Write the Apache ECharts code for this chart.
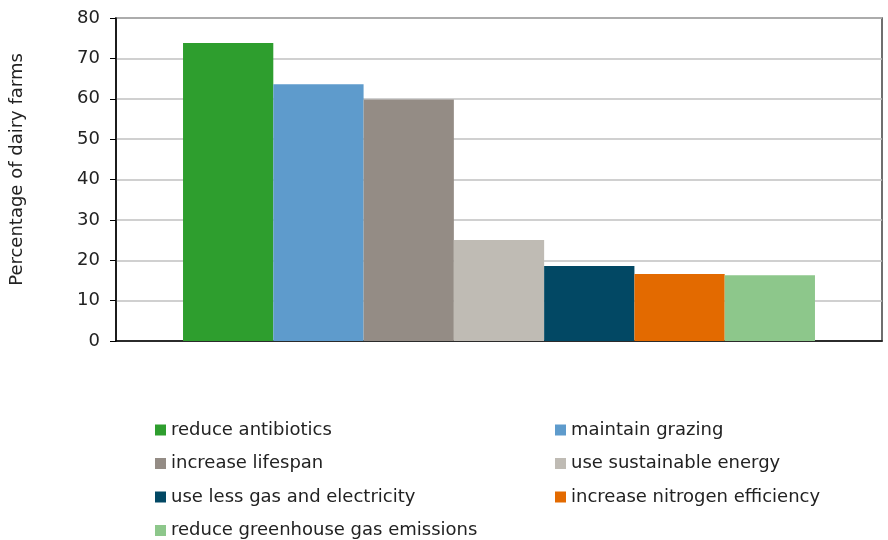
<!DOCTYPE html>
<html><head><meta charset="utf-8">
<script src="https://cdn.jsdelivr.net/npm/echarts@6/dist/echarts.min.js"></script>
<style>html,body{margin:0;padding:0;background:#fff}#c{width:888px;height:540px}</style>
</head><body><div id="c"></div>
<script>
const seriesNames = ['reduce antibiotics','maintain grazing','increase lifespan','use sustainable energy','use less gas and electricity','increase nitrogen efficiency','reduce greenhouse gas emissions'];
const seriesValues = [73.8, 63.6, 59.8, 25.0, 18.6, 16.6, 16.3];
const seriesColors = ['#2e9e2e','#5e9bcc','#948c85','#bfbbb4','#024864','#e36a00','#8dc78b'];
const yTicks = {min:0, max:80, interval:10};
const category = [''];

const chart = echarts.init(document.getElementById('c'));
const font = 'DejaVu Sans, Verdana, sans-serif';
const series = seriesNames.map((n,i)=>({
  name:n, type:'bar', data:[seriesValues[i]], barGap:'0%', barCategoryGap:'17.5%',
  itemStyle:{color:seriesColors[i]}
}));
const legendCommon = {orient:'vertical', itemWidth:11, itemHeight:11, itemGap:13.5, height:140,
  icon:'rect', textStyle:{fontFamily:font, fontSize:18, color:'#222', lineHeight:20}};
chart.setOption({
  animation:false,
  textStyle:{fontFamily:font},
  grid:{left:115, right:6, top:18, height:323, show:true, borderColor:'#404040', borderWidth:1.5},
  legend:[
    Object.assign({left:150, top:415, data:[seriesNames[0],seriesNames[2],seriesNames[4],seriesNames[6]]}, legendCommon),
    Object.assign({left:550, top:415, data:[seriesNames[1],seriesNames[3],seriesNames[5]]}, legendCommon)
  ],
  xAxis:{type:'category', data:category, axisLabel:{show:false}, axisTick:{show:false},
    axisLine:{lineStyle:{color:'#000', width:1.5}}},
  yAxis:{type:'value', min:yTicks.min, max:yTicks.max, interval:yTicks.interval,
    name:'Percentage of dairy farms', nameLocation:'middle', nameGap:90,
    nameTextStyle:{fontFamily:font, fontSize:18, color:'#222', padding:[0,0,0,20]},
    axisLine:{show:true, lineStyle:{color:'#000', width:1.5}},
    axisTick:{show:true, length:6, lineStyle:{color:'#000'}},
    axisLabel:{fontFamily:font, fontSize:18, color:'#222', margin:16},
    splitLine:{lineStyle:{color:'#c0c0c0', width:1.5}}},
  series
});
</script></body></html>
